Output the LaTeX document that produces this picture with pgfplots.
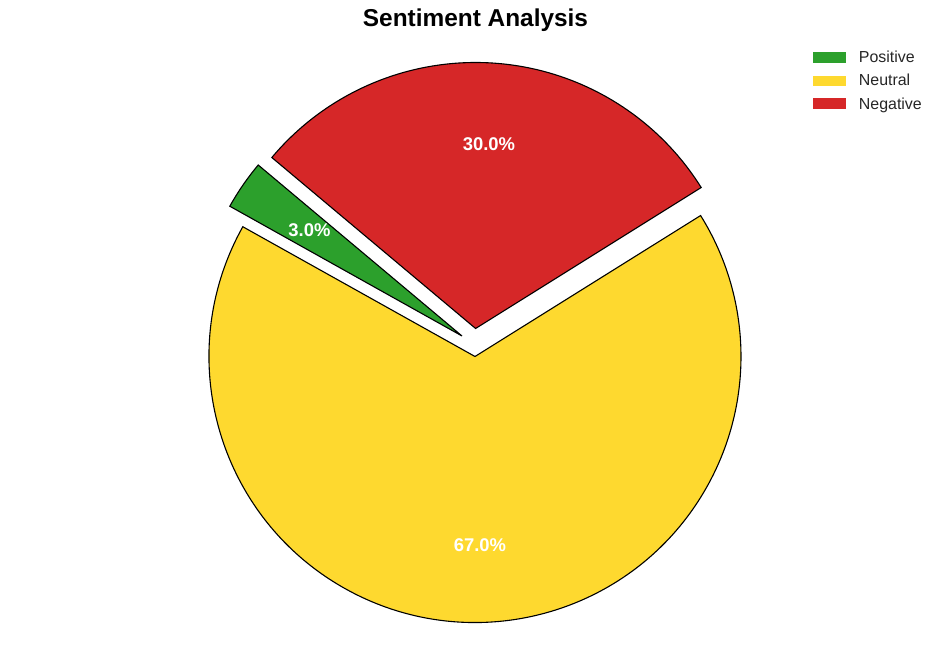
\documentclass[border=0pt]{standalone}
\usepackage{pgfplots}
\pgfplotsset{compat=1.18}
\usepackage{fontspec}
\setmainfont{Liberation Sans}

\definecolor{cpos}{HTML}{2CA02C}
\definecolor{cneu}{HTML}{FED92F}
\definecolor{cneg}{HTML}{D62728}

% shares in percent, start angle 140, counter-clockwise
\pgfmathsetmacro\aA{140}
\pgfmathsetmacro\aB{\aA+3*3.6}
\pgfmathsetmacro\aC{\aB+67*3.6}
\pgfmathsetmacro\aD{\aC+30*3.6}
\def\R{266bp}

\begin{document}
\begin{tikzpicture}
	\begin{axis}
	[
		width=950bp,
		height=662bp,
		scale only axis,
		xmin=0, xmax=950,
		ymin=0, ymax=662,
		hide axis,
		clip=false,
	]
		\path (axis cs:0,0) rectangle (axis cs:950,662);
		% slices (Positive and Negative pulled out)
		\filldraw[fill=cpos, draw=black, line width=1.1bp]
			(axis cs:462,326) -- ++(\aA:\R) arc[start angle=\aA, end angle=\aB, radius=\R] -- cycle;
		\filldraw[fill=cneu, draw=black, line width=1.1bp]
			(axis cs:475,305.5) -- ++(\aB:\R) arc[start angle=\aB, end angle=\aC, radius=\R] -- cycle;
		\filldraw[fill=cneg, draw=black, line width=1.1bp]
			(axis cs:475.6,333.5) -- ++(\aC:\R) arc[start angle=\aC, end angle=\aD, radius=\R] -- cycle;
		% percentages
		\node[anchor=base, inner sep=0pt, text=white, font=\fontsize{18.5}{22}\selectfont\bfseries]
			at (axis cs:309.5,425) {3.0\%};
		\node[anchor=base, inner sep=0pt, text=white, font=\fontsize{18.5}{22}\selectfont\bfseries]
			at (axis cs:480,111) {67.0\%};
		\node[anchor=base, inner sep=0pt, text=white, font=\fontsize{18.5}{22}\selectfont\bfseries]
			at (axis cs:489,511) {30.0\%};
		% title
		\node[anchor=base, inner sep=0pt, font=\fontsize{24.5}{29}\selectfont\bfseries]
			at (axis cs:475.5,635) {Sentiment Analysis};
		% legend
		\fill[cpos] (axis cs:813,599) rectangle (axis cs:846,610);
		\fill[cneu] (axis cs:813,576) rectangle (axis cs:846,586.3);
		\fill[cneg] (axis cs:813,552.7) rectangle (axis cs:846,563.7);
		\node[anchor=base west, inner sep=0pt, text=black!85, font=\fontsize{16}{19}\selectfont]
			at (axis cs:858.7,599.3) {Positive};
		\node[anchor=base west, inner sep=0pt, text=black!85, font=\fontsize{16}{19}\selectfont]
			at (axis cs:858.7,576) {Neutral};
		\node[anchor=base west, inner sep=0pt, text=black!85, font=\fontsize{16}{19}\selectfont]
			at (axis cs:858.7,552.7) {Negative};
	\end{axis}
\end{tikzpicture}
\end{document}
